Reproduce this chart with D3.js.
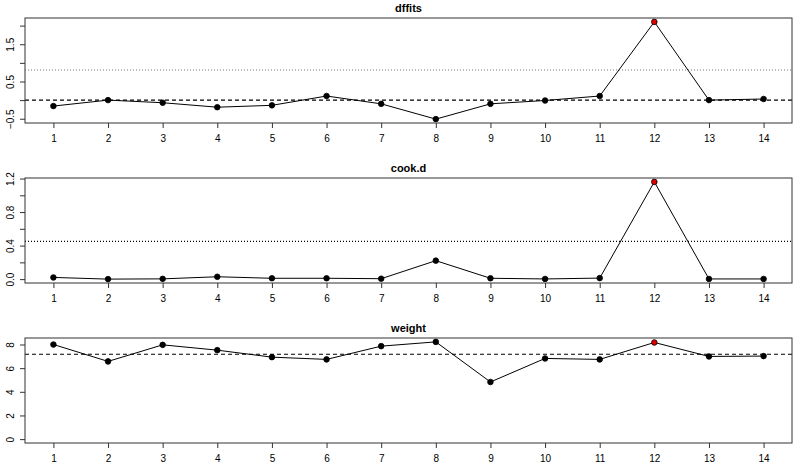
<!DOCTYPE html>
<html lang="en">
<head>
<meta charset="UTF-8">
<title>Influence measures</title>
<style>
    body { margin: 0; background: #fff; }
    svg text { font-family: "Liberation Sans", Arial, sans-serif; fill: #000; }
    .title { font-weight: bold; font-size: 11px; }
    .tick-label { font-size: 10px; }
</style>
</head>
<body>
<svg id="chart" width="798" height="469"></svg>
<script src="https://cdn.jsdelivr.net/npm/d3@7"></script>
<script>
    // observation index
    const obs = [1, 2, 3, 4, 5, 6, 7, 8, 9, 10, 11, 12, 13, 14];

    // values
    const dffits = [-0.16, 0.0, -0.07, -0.19, -0.14, 0.11, -0.1, -0.51, -0.1, -0.01, 0.11, 2.1, 0.0, 0.03];
    const cookd  = [0.02, 0.0, 0.003, 0.028, 0.01, 0.01, 0.005, 0.22, 0.01, 0.002, 0.012, 1.16, 0.002, 0.002];
    const weight = [8.0, 6.57, 7.97, 7.52, 6.93, 6.74, 7.86, 8.22, 4.83, 6.82, 6.74, 8.17, 6.99, 7.02];

    // reference lines
    const dffitsCut = 0.81, dffitsZero = 0;
    const cookCut = 0.45;
    const weightMean = 7.17;

    // y ticks and the labels R kept
    const dffitsTicks = [-0.5, 0, 0.5, 1, 1.5, 2];
    const dffitsLabels = [-0.5, 0.5, 1.5];
    const cookTicks = [0, 0.2, 0.4, 0.6, 0.8, 1.0, 1.2];
    const cookLabels = [0, 0.4, 0.8, 1.2];
    const weightTicks = [0, 2, 4, 6, 8];
    const weightLabels = [0, 2, 4, 6, 8];

    const flagged = 12; // highlighted point

    const panels = [
        { title: "dffits", values: dffits, ticks: dffitsTicks, labels: dffitsLabels, fmt: d3.format(".1f"),
          lines: [{ v: dffitsCut, dash: "1,2", color: "#777" }, { v: dffitsZero, dash: "4,3", color: "#000" }], fromZero: false },
        { title: "cook.d", values: cookd, ticks: cookTicks, labels: cookLabels, fmt: d3.format(".1f"),
          lines: [{ v: cookCut, dash: "1,2", color: "#000" }], fromZero: false },
        { title: "weight", values: weight, ticks: weightTicks, labels: weightLabels, fmt: d3.format("d"),
          lines: [{ v: weightMean, dash: "4,3", color: "#000" }], fromZero: true }
    ];

    const svg = d3.select("#chart");
    const left = 25, right = 792;
    const boxH = 105, firstTop = 18, step = 160;

    // R style axis range: extend 4% each side
    function pad(ext) {
        const d = (ext[1] - ext[0]) * 0.04;
        return [ext[0] - d, ext[1] + d];
    }

    const x = d3.scaleLinear().domain(pad([1, 14])).range([left, right]);

    panels.forEach((p, i) => {
        const top = firstTop + i * step, bottom = top + boxH;
        const ext = d3.extent(p.fromZero ? [0, ...p.values] : p.values);
        const y = d3.scaleLinear().domain(pad(ext)).range([bottom, top]);
        const g = svg.append("g");

        // reference lines
        p.lines.forEach(l => {
            g.append("line")
                .attr("x1", left).attr("x2", right)
                .attr("y1", y(l.v)).attr("y2", y(l.v))
                .attr("stroke", l.color).attr("stroke-width", 1.1)
                .attr("stroke-dasharray", l.dash);
        });

        // series line
        const line = d3.line().x((d, j) => x(obs[j])).y(d => y(d));
        g.append("path")
            .datum(p.values)
            .attr("d", line)
            .attr("fill", "none")
            .attr("stroke", "#000")
            .attr("stroke-width", 1);

        g.selectAll("circle")
            .data(p.values)
            .enter().append("circle")
            .attr("cx", (d, j) => x(obs[j]))
            .attr("cy", d => y(d))
            .attr("r", 2.8)
            .attr("fill", (d, j) => obs[j] === flagged ? "#e00000" : "#000")
            .attr("stroke", "#000")
            .attr("stroke-width", 0.8);

        // box
        g.append("rect")
            .attr("x", left).attr("y", top)
            .attr("width", right - left).attr("height", boxH)
            .attr("fill", "none").attr("stroke", "#333").attr("stroke-width", 1);

        // x axis
        const xa = g.append("g").attr("transform", `translate(0,${bottom})`)
            .call(d3.axisBottom(x).tickValues(obs).tickSize(5).tickSizeOuter(0).tickFormat(d3.format("d")));
        xa.select(".domain").remove();
        xa.selectAll("line").attr("stroke", "#333");
        xa.selectAll("text").attr("class", "tick-label").attr("y", 12).attr("dy", "0.71em");

        // y axis
        const ya = g.append("g").attr("transform", `translate(${left},0)`)
            .call(d3.axisLeft(y).tickValues(p.ticks).tickSize(5).tickSizeOuter(0)
                .tickFormat(d => p.labels.includes(d) ? p.fmt(d) : ""));
        ya.select(".domain").remove();
        ya.selectAll("line").attr("stroke", "#333");
        ya.selectAll("text")
            .attr("class", "tick-label")
            .attr("x", null).attr("dy", null)
            .attr("text-anchor", "middle")
            .attr("transform", "translate(-11,0) rotate(-90)");

        // title
        g.append("text")
            .attr("class", "title")
            .attr("x", (left + right) / 2)
            .attr("y", top - 6)
            .attr("text-anchor", "middle")
            .text(p.title);
    });
</script>
</body>
</html>
